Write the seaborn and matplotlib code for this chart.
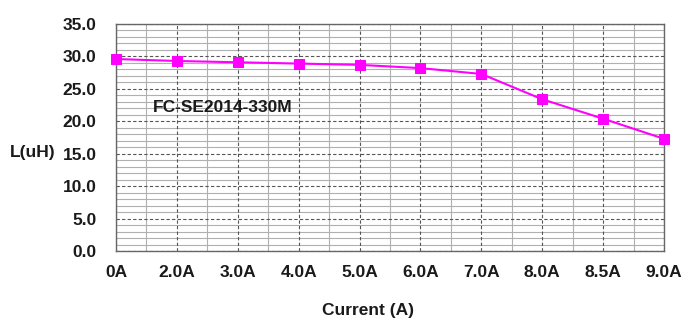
import matplotlib
matplotlib.use("Agg")
import matplotlib.pyplot as plt
import seaborn as sns
import numpy as np
import pandas as pd

categories = ["0A", "2.0A", "3.0A", "4.0A", "5.0A", "6.0A", "7.0A", "8.0A", "8.5A", "9.0A"]
inductance = [29.6, 29.3, 29.1, 28.9, 28.7, 28.2, 27.3, 23.4, 20.4, 17.3]
y_ticks = [0, 5, 10, 15, 20, 25, 30, 35]
y_tick_labels = ["0.0", "5.0", "10.0", "15.0", "20.0", "25.0", "30.0", "35.0"]

sns.set_style("white")
plt.rcParams['font.family'] = ['Liberation Sans', 'DejaVu Sans']

df = pd.DataFrame({"pos": np.arange(len(categories)), "L": inductance})

fig = plt.figure(figsize=(6.82, 3.18), dpi=100)
ax = fig.add_axes([0.170, 0.2107, 0.8036, 0.7138])

FS = 12.5
TC = "#1a1a1a"

# grid
for v in np.arange(0, 35.01, 1):
    if v % 5 == 0:
        ax.axhline(v, color="#555555", lw=0.8, ls=(0, (3, 2)), zorder=1)
    else:
        ax.axhline(v, color="#b0b0b0", lw=0.8, zorder=0.5)
for i in range(len(categories)):
    ax.axvline(i, color="#555555", lw=0.8, ls=(0, (3, 2)), zorder=1)
    if i < len(categories) - 1:
        ax.axvline(i + 0.5, color="#b0b0b0", lw=0.8, zorder=0.5)

sns.lineplot(data=df, x="pos", y="L", ax=ax, color="#FF00FF", marker="s",
             markersize=7, markeredgecolor="#FF00FF", lw=1.5, zorder=3,
             clip_on=False)

ax.set_xlim(0, len(categories) - 1)
ax.set_ylim(0, 35)
ax.set_xticks(np.arange(len(categories)))
ax.set_xticklabels(categories, fontsize=FS, fontweight="bold", color=TC)
ax.set_yticks(y_ticks)
ax.set_yticklabels(y_tick_labels, fontsize=FS, fontweight="bold", color=TC)
ax.tick_params(axis="x", pad=10, length=0)
ax.tick_params(axis="y", pad=14, length=0)
for s in ax.spines.values():
    s.set_color("#666666")
    s.set_linewidth(1.0)
ax.set_xlabel("")
ax.set_ylabel("")

fig.text(33 / 682, 1 - 153 / 318, "L(uH)", fontsize=FS, fontweight="bold",
         ha="center", va="center", color=TC)
fig.text(368 / 682, 1 - 311 / 318, "Current (A)", fontsize=FS, fontweight="bold",
         ha="center", va="center", color=TC)
ax.text(1.76, 22.05, "FC-SE2014-330M", fontsize=FS, fontweight="bold",
        ha="center", va="center", color=TC, zorder=4)

fig.savefig("out.png", dpi=100)
